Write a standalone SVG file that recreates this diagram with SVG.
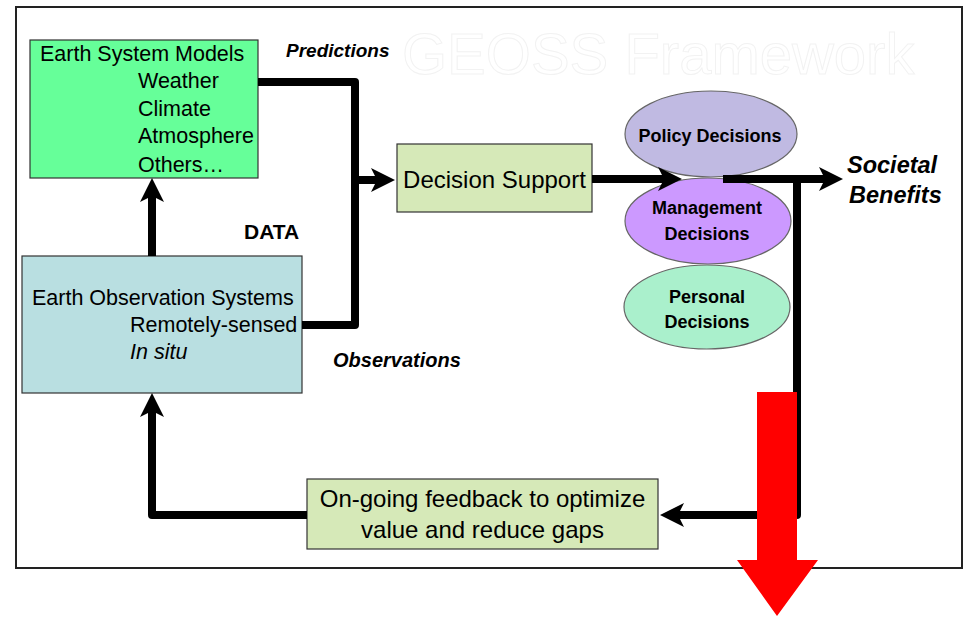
<svg xmlns="http://www.w3.org/2000/svg" width="966" height="617" viewBox="0 0 966 617">
  <style>
    .t { font-family: "Liberation Sans", Arial, sans-serif; fill: #000; }
    .box { stroke: #333; stroke-width: 1.2; }
    .ell { stroke: #666; stroke-width: 1.2; }
    .con { fill: none; stroke: #000; stroke-width: 8; stroke-linejoin: round; }
  </style>
  <defs>
    <marker id="ah" markerUnits="userSpaceOnUse" viewBox="0 0 24 24" refX="8" refY="12" markerWidth="24" markerHeight="24" orient="auto">
      <path d="M0,0 L24,12 L0,24 L6,12 Z" fill="#000"/>
    </marker>
  </defs>

  <rect x="0" y="0" width="966" height="617" fill="#fff"/>
  <rect id="frame" x="16" y="7" width="946" height="561" fill="#fff" stroke="#222" stroke-width="2"/>

  <g id="title">
    <text font-family="Liberation Sans, Arial, sans-serif" font-size="58" x="402" y="74" fill="#ffffff" stroke="#f2f2f2" stroke-width="1">GEOSS Framework</text>
  </g>

  <g id="earth-system-models">
    <rect class="box" x="30" y="40" width="228" height="138" fill="#66ff99"/>
    <text class="t" font-size="21.5" x="40" y="61">Earth System Models</text>
    <text class="t" font-size="21.5" x="138" y="88">Weather</text>
    <text class="t" font-size="21.5" x="138" y="116">Climate</text>
    <text class="t" font-size="21.5" x="138" y="143">Atmosphere</text>
    <text class="t" font-size="21.5" x="138" y="172">Others…</text>
  </g>

  <g id="earth-observation-systems">
    <rect class="box" x="22" y="256" width="280" height="137" fill="#b9dfe1"/>
    <text class="t" font-size="21.5" x="32" y="305">Earth Observation Systems</text>
    <text class="t" font-size="21.5" x="130" y="332">Remotely-sensed</text>
    <text class="t" font-size="21.5" x="130" y="359" font-style="italic">In situ</text>
  </g>

  <g id="decision-support">
    <rect class="box" x="397" y="144" width="195" height="68" fill="#d6e9b8"/>
    <text class="t" font-size="24" x="494.5" y="188" text-anchor="middle">Decision Support</text>
  </g>

  <g id="policy-decisions">
    <ellipse class="ell" cx="711" cy="134" rx="86" ry="43" fill="#c0bae2"/>
    <text class="t" font-size="18" font-weight="bold" x="710" y="142" text-anchor="middle">Policy Decisions</text>
  </g>

  <g id="management-decisions">
    <ellipse class="ell" cx="708" cy="221" rx="83" ry="43" fill="#cc99ff"/>
    <text class="t" font-size="18" font-weight="bold" x="707" y="214" text-anchor="middle">Management</text>
    <text class="t" font-size="18" font-weight="bold" x="707" y="240" text-anchor="middle">Decisions</text>
  </g>

  <g id="personal-decisions">
    <ellipse class="ell" cx="707" cy="307" rx="83" ry="42" fill="#aaf0cc"/>
    <text class="t" font-size="18" font-weight="bold" x="707" y="303" text-anchor="middle">Personal</text>
    <text class="t" font-size="18" font-weight="bold" x="707" y="328" text-anchor="middle">Decisions</text>
  </g>

  <g id="feedback">
    <rect class="box" x="307" y="479" width="351" height="70" fill="#d6e9b8"/>
    <text class="t" font-size="24" x="482.5" y="507" text-anchor="middle">On-going feedback to optimize</text>
    <text class="t" font-size="24" x="482.5" y="538" text-anchor="middle">value and reduce gaps</text>
  </g>

  <g id="societal-benefits">
    <text class="t" font-size="23.5" font-weight="bold" font-style="italic" x="847" y="173">Societal</text>
    <text class="t" font-size="23.5" font-weight="bold" font-style="italic" x="849" y="203">Benefits</text>
  </g>

  <g id="labels">
    <text class="t" font-size="21" font-weight="bold" x="244" y="239">DATA</text>
    <text class="t" font-size="20" font-weight="bold" font-style="italic" x="333" y="367">Observations</text>
    <text class="t" font-size="19" font-weight="bold" font-style="italic" x="286" y="57">Predictions</text>
  </g>

  <g id="connectors">
    <path class="con" d="M258,82 H355 V325 H302"/>
    <path class="con" d="M355,180 H379" marker-end="url(#ah)"/>
    <path class="con" d="M152,256 V194" marker-end="url(#ah)"/>
    <path class="con" d="M592,179 H666" marker-end="url(#ah)"/>
    <path class="con" d="M723,179 H827" marker-end="url(#ah)"/>
    <path class="con" d="M797,179 V515 H676" marker-end="url(#ah)"/>
    <path class="con" d="M307,515 H152 V409" marker-end="url(#ah)"/>
  </g>

  <g id="red-arrow">
    <path d="M757,392 H797 V560 H818 L777,616 L737,560 H757 Z" fill="#ff0000"/>
  </g>
</svg>
